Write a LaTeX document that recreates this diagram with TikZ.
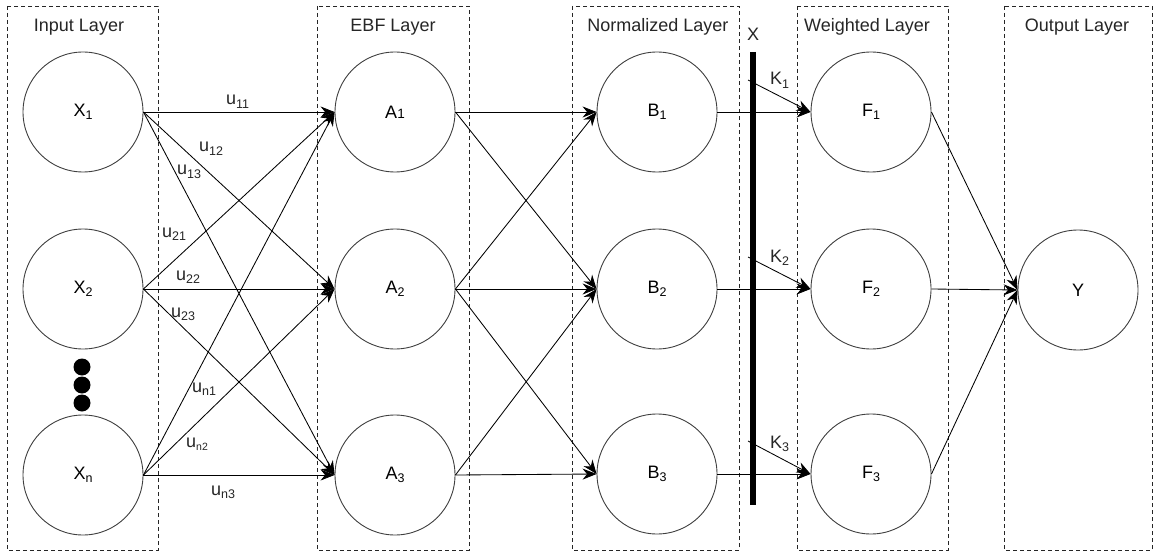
\documentclass[tikz,border=0pt]{standalone}
\usepackage{fontspec}
\setmainfont{Liberation Sans}
\usetikzlibrary{arrows.meta}
\newcommand\sbs[1]{\raisebox{-3.5pt}{\fontsize{12.5}{12.5}\selectfont #1}}
\newcommand\sbsn[1]{\raisebox{-3pt}{\fontsize{10.5}{10.5}\selectfont #1}}
\begin{document}
\begin{tikzpicture}[x=1pt,y=-1pt,
  neuron/.style={circle, draw=black!75, line width=0.9pt, minimum size=120pt, inner sep=0pt, font=\fontsize{18}{18}\selectfont},
  layerbox/.style={draw=black!85, line width=0.9pt, dash pattern=on 4pt off 3pt},
  title/.style={font=\fontsize{18}{18}\selectfont, anchor=base, inner sep=0pt, text=black!85},
  wlabel/.style={font=\fontsize{18}{18}\selectfont, anchor=base west, inner sep=0pt, text=black!85},
  conn/.style={line width=0.85pt, -{Stealth[length=14pt,width=11pt]}},
  dotnode/.style={circle, fill=black, minimum size=17pt, inner sep=0pt},
]
\useasboundingbox (0,0) rectangle (1153,556);
\fill[white] (0,0) rectangle (1153,556);

% layer boxes
\draw[layerbox] (7,6) rectangle (158,550);
\draw[layerbox] (317,6) rectangle (469,550);
\draw[layerbox] (572,6) rectangle (739,550);
\draw[layerbox] (797,6) rectangle (948,550);
\draw[layerbox] (1004,6) rectangle (1152,550);

% titles
\node[title] (tIn)  at (79,32)   {Input Layer};
\node[title] (tEbf) at (393,32)  {EBF Layer};
\node[title] (tNor) at (658,32)  {Normalized Layer};
\node[title] (tWei) at (867,32)  {Weighted Layer};
\node[title] (tOut) at (1077,32) {Output Layer};

% neurons
\node[neuron] (X1) at (83,112) {X\sbs{1}};
\node[neuron] (X2) at (83,289) {X\sbs{2}};
\node[neuron] (Xn) at (83,475) {X\sbs{n}};
\node[neuron] (A1) at (395,112) {A{\fontsize{13.5}{13.5}\selectfont 1}};
\node[neuron] (A2) at (395,289) {A\sbs{2}};
\node[neuron] (A3) at (395,475) {A\sbs{3}};
\node[neuron] (B1) at (657,112) {B\sbs{1}};
\node[neuron] (B2) at (657,289) {B\sbs{2}};
\node[neuron] (B3) at (657,474) {B\sbs{3}};
\node[neuron] (F1) at (871,112) {F\sbs{1}};
\node[neuron] (F2) at (871,289) {F\sbs{2}};
\node[neuron] (F3) at (871,474) {F\sbs{3}};
\node[neuron] (Y)  at (1078,290) {Y};

% dots
\node[dotnode] (d1) at (82,367) {};
\node[dotnode] (d2) at (82,385) {};
\node[dotnode] (d3) at (82,403) {};

% input -> EBF
\foreach \s in {X1,X2,Xn}{
  \foreach \t in {A1,A2,A3}{
    \draw[conn] (\s.east) -- (\t.west);
  }
}
% EBF -> normalized
\draw[conn] (A1.east) -- (B1.west);
\draw[conn] (A1.east) -- (B2.west);
\draw[conn] (A2.east) -- (B1.west);
\draw[conn] (A2.east) -- (B2.west);
\draw[conn] (A2.east) -- (B3.west);
\draw[conn] (A3.east) -- (B2.west);
\draw[conn] (A3.east) -- (B3.west);
% normalized -> weighted
\draw[conn] (B1.east) -- (F1.west);
\draw[conn] (B2.east) -- (F2.west);
\draw[conn] (B3.east) -- (F3.west);
% weighted -> output
\draw[conn] (F1.east) -- (Y.west);
\draw[conn] (F2.east) -- (Y.west);
\draw[conn] (F3.east) -- (Y.west);

% X bar
\coordinate (barT) at (753,52);
\coordinate (barB) at (753,505);
\draw[line width=6pt] (barT) -- (barB);
\node[title] (xlab) at (753,41) {X};
\coordinate (k1) at (748,80);
\coordinate (k2) at (748,257);
\coordinate (k3) at (748,441);
\draw[conn] (k1) -- (F1.west);
\draw[conn] (k2) -- (F2.west);
\draw[conn] (k3) -- (F3.west);
\node[wlabel] (K1) at (770,85)  {K\sbs{1}};
\node[wlabel] (K2) at (770,262) {K\sbs{2}};
\node[wlabel] (K3) at (770,448) {K\sbs{3}};

% weight labels
\node[wlabel] (u11) at (226,105) {u\sbs{11}};
\node[wlabel] (u12) at (199,152) {u\sbs{12}};
\node[wlabel] (u13) at (177,175) {u\sbs{13}};
\node[wlabel] (u21) at (162,237) {u\sbs{21}};
\node[wlabel] (u22) at (176,280) {u\sbs{22}};
\node[wlabel] (u23) at (171,317) {u\sbs{23}};
\node[wlabel] (un1) at (192,392) {u\sbs{n1}};
\node[wlabel] (un2) at (186,447) {u\sbsn{n2}};
\node[wlabel] (un3) at (211,495) {u\sbs{n3}};
\end{tikzpicture}
\end{document}
